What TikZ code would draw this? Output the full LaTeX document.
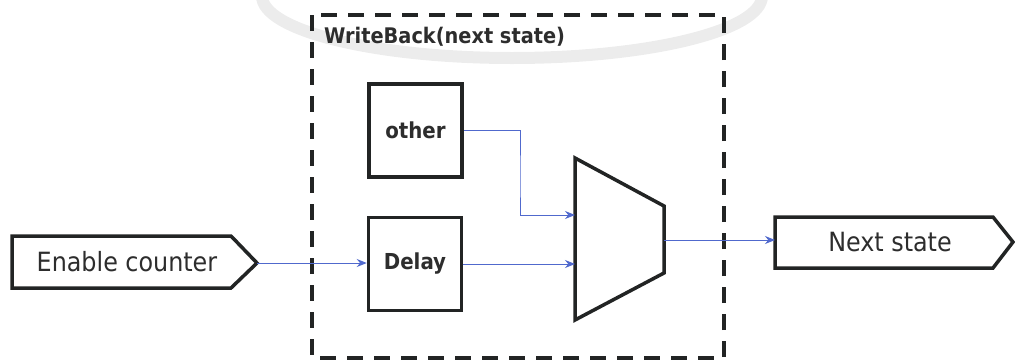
\documentclass[tikz,border=0pt]{standalone}
\usepackage{fontspec}
\setmainfont{DejaVu Sans Condensed}
\usetikzlibrary{arrows.meta}
\definecolor{ink}{RGB}{34,36,36}
\definecolor{txt}{RGB}{45,45,45}
\definecolor{wire}{RGB}{80,105,205}
\definecolor{wm}{RGB}{236,236,236}
\tikzset{
  blk/.style={draw=ink, line width=3.5pt, fill=white},
  lbl/.style={text=txt, inner sep=0pt},
  conn/.style={draw=wire, line width=1pt, -{Stealth[length=10pt,width=8pt]}},
  grp/.style={draw=ink, line width=3.2pt, dash pattern=on 16pt off 11pt},
}
\begin{document}
\begin{tikzpicture}[x=1pt,y=-1pt]
\useasboundingbox (0,0) rectangle (1015,362);
% faint watermark arc
\draw[wm, line width=12pt] (262,-4) arc[start angle=180, end angle=0, x radius=250, y radius=62];
% group box
\draw[grp] (312,15) rectangle (724,358);
\node[lbl, anchor=base west, font=\bfseries\fontsize{21.5}{25}\selectfont] (title) at (324,43) {WriteBack(next state)};
% input signal
\draw[blk] (12,236) -- (231,236) -- (257,263) -- (231,288) -- (12,288) -- cycle;
\coordinate (entip) at (257,263);
\node[lbl, font=\fontsize{26.5}{30}\selectfont] (enable) at (127,262) {Enable counter};
% output signal
\draw[blk] (775,217) -- (993,217) -- (1013,242) -- (993,268) -- (775,268) -- cycle;
\coordinate (nsin) at (775,240);
\node[lbl, font=\fontsize{26.5}{30}\selectfont] (next) at (890,242) {Next state};
% blocks
\node[blk, minimum width=93pt, minimum height=93pt, inner sep=0pt, font=\bfseries\fontsize{22}{26}\selectfont, text=txt] (other) at (415.5,130.5) {other};
\node[blk, minimum width=93pt, minimum height=93pt, inner sep=0pt, font=\bfseries\fontsize{22}{26}\selectfont, text=txt] (delay) at (415,264) {Delay};
% mux
\draw[blk] (575,158) -- (664,206) -- (664,273) -- (575,320) -- cycle;
\coordinate (muxa) at (575,215);
\coordinate (muxb) at (575,264);
\coordinate (muxo) at (664,240);
% connectors
\draw[conn] (entip) -- (delay.west |- entip);
\draw[conn] (other.east) -| (520,180) |- (muxa);
\draw[conn] (delay.east) -- (muxb);
\draw[conn] (muxo) -- (nsin);
\end{tikzpicture}
\end{document}
